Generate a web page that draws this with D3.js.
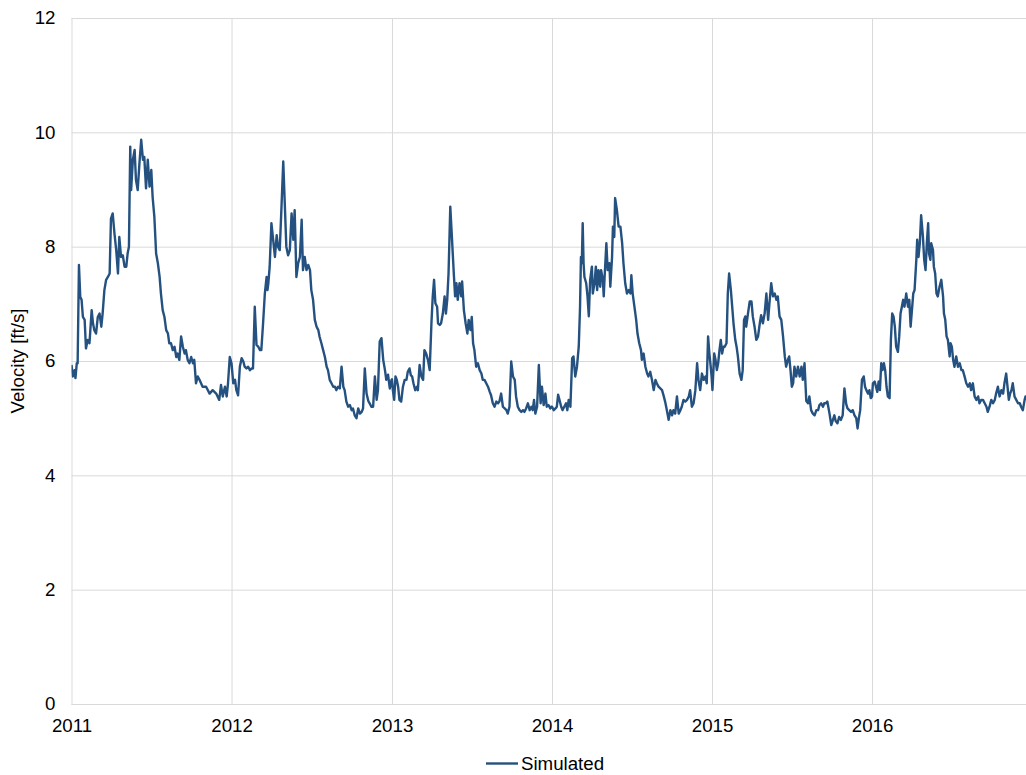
<!DOCTYPE html>
<html>
<head>
<meta charset="utf-8">
<script src="https://cdn.jsdelivr.net/npm/d3@7"></script>
<style>
  html, body { margin: 0; padding: 0; background: #fff; }
  svg { display: block; font-family: "Liberation Sans", Arial, sans-serif; }
</style>
</head>
<body>
<svg id="chart" width="1026" height="775"></svg>
<script>
// ---- Data (day-of-year, velocity ft/s) ----
const years = [2011, 2012, 2013, 2014, 2015, 2016];
const yTicks = [0, 2, 4, 6, 8, 10, 12];
const xTickLabels = ["2011", "2012", "2013", "2014", "2015", "2016"];
const seriesName = "Simulated";
const yTitle = "Velocity [ft/s]";

const sim2011 = [[0,5.93],[3,5.73],[7,5.84],[9,5.70],[12,5.96],[14,5.96],[17,7.68],[20,7.12],[23,7.07],[26,6.77],[30,6.72],[33,6.22],[37,6.37],[41,6.31],[46,6.89],[49,6.66],[52,6.54],[56,6.48],[60,6.77],[64,6.83],[68,6.60],[71,6.83],[75,7.24],[79,7.42],[83,7.47],[87,7.53],[90,8.49],[94,8.58],[98,8.23],[102,7.94],[106,7.53],[109,8.17],[113,7.82],[117,7.85],[121,7.65],[125,7.65],[128,7.88],[131,8.00],[134,9.75],[136,8.99],[140,9.52],[144,9.69],[147,9.17],[151,8.99],[155,9.46],[159,9.87],[163,9.52],[166,9.57],[170,9.02],[174,9.52],[178,9.05],[182,9.34],[185,8.87],[189,8.52],[193,7.88],[197,7.71],[201,7.47],[204,7.18],[208,6.89],[212,6.77],[216,6.54],[220,6.48],[223,6.31],[227,6.31],[231,6.19],[235,6.25],[239,6.07],[242,6.13],[246,6.02],[250,6.43],[254,6.25],[258,6.13],[261,6.19],[265,6.02],[269,5.96],[273,6.07],[277,5.96],[280,6.02],[284,5.61],[288,5.73],[292,5.67],[299,5.55],[307,5.55],[315,5.43],[322,5.49],[330,5.43],[337,5.32],[341,5.58],[345,5.38],[350,5.55],[354,5.38],[357,5.61],[361,6.07]];
const sim2012 = [[0,5.96],[4,5.61],[8,5.67],[11,5.49],[15,5.40],[19,5.90],[23,6.05],[27,5.99],[30,5.90],[34,5.87],[38,5.90],[42,5.84],[46,5.87],[49,5.87],[53,6.95],[57,6.28],[61,6.25],[65,6.19],[68,6.19],[72,6.66],[76,7.18],[80,7.47],[82,7.24],[84,7.36],[87,7.65],[91,8.41],[95,8.12],[99,7.82],[103,8.20],[106,8.00],[110,7.94],[114,8.70],[118,9.49],[122,8.64],[125,8.00],[129,7.85],[133,7.94],[137,8.58],[141,8.12],[144,8.64],[148,7.47],[152,7.71],[156,7.82],[160,8.47],[163,7.59],[167,7.82],[171,7.59],[175,7.68],[179,7.59],[182,7.24],[186,7.07],[190,6.72],[194,6.60],[198,6.54],[201,6.42],[205,6.31],[209,6.19],[213,6.07],[217,5.90],[220,5.84],[224,5.67],[228,5.61],[232,5.55],[236,5.55],[239,5.49],[243,5.55],[247,5.52],[251,5.90],[255,5.55],[258,5.49],[262,5.29],[266,5.20],[270,5.23],[274,5.14],[277,5.17],[281,5.05],[285,5.00],[289,5.17],[293,5.08],[297,5.11],[300,5.17],[304,5.87],[308,5.43],[312,5.30],[315,5.26],[319,5.20],[323,5.20],[327,5.73],[331,5.32],[334,5.49],[338,6.34],[342,6.40],[346,6.02],[350,5.84],[353,5.67],[357,5.76],[361,5.52],[365,5.67]];
const sim2013 = [[0,5.68],[2,5.49],[5,5.32],[8,5.73],[11,5.67],[14,5.55],[17,5.32],[21,5.29],[25,5.55],[29,5.67],[33,5.67],[36,5.81],[40,5.87],[43,5.75],[46,5.73],[49,5.61],[53,5.49],[57,5.55],[59,5.49],[63,5.93],[67,5.73],[71,5.67],[74,6.19],[78,6.13],[82,6.02],[86,5.84],[90,6.66],[93,7.13],[96,7.42],[99,7.01],[103,6.95],[105,6.66],[109,6.63],[112,6.66],[116,6.83],[120,7.13],[123,6.83],[126,7.07],[129,7.53],[133,8.70],[137,8.12],[141,7.53],[144,7.13],[147,7.36],[150,7.07],[154,7.36],[158,7.13],[160,7.39],[164,6.89],[168,6.66],[172,6.48],[175,6.72],[179,6.54],[182,6.77],[185,6.31],[188,6.19],[192,5.90],[196,5.96],[200,5.84],[204,5.78],[207,5.67],[211,5.67],[215,5.61],[219,5.55],[223,5.46],[226,5.40],[230,5.26],[234,5.20],[238,5.29],[242,5.26],[245,5.29],[249,5.43],[253,5.20],[257,5.17],[261,5.14],[264,5.08],[268,5.20],[272,5.99],[276,5.73],[280,5.67],[283,5.38],[287,5.20],[291,5.14],[295,5.11],[299,5.14],[302,5.11],[306,5.17],[310,5.26],[314,5.14],[318,5.20],[321,5.14],[324,5.32],[327,5.08],[331,5.20],[335,5.93],[339,5.26],[342,5.55],[346,5.23],[350,5.43],[353,5.20],[357,5.23],[361,5.17],[363,5.20]];
const sim2014 = [[0,5.20],[4,5.14],[8,5.17],[11,5.20],[14,5.41],[17,5.32],[21,5.20],[24,5.14],[28,5.20],[32,5.26],[35,5.14],[38,5.32],[42,5.20],[46,6.05],[49,6.08],[53,5.73],[57,5.90],[61,6.25],[64,6.95],[66,7.82],[68,7.71],[70,8.41],[72,7.71],[74,7.47],[78,7.36],[81,7.13],[84,6.78],[87,7.42],[91,7.65],[93,7.18],[97,7.36],[100,7.65],[103,7.24],[106,7.59],[110,7.30],[112,7.59],[116,7.42],[118,7.13],[120,7.47],[124,8.06],[127,7.59],[131,7.71],[133,7.30],[137,7.82],[139,8.35],[142,8.17],[144,8.85],[148,8.64],[152,8.35],[156,8.35],[160,8.06],[163,7.71],[167,7.36],[171,7.18],[175,7.24],[179,7.18],[181,7.50],[184,7.18],[188,6.95],[192,6.72],[195,6.48],[199,6.31],[203,6.19],[205,6.02],[209,6.13],[213,5.90],[217,5.78],[220,5.73],[224,5.81],[228,5.67],[232,5.49],[236,5.67],[239,5.61],[243,5.55],[247,5.52],[251,5.49],[255,5.38],[258,5.29],[262,5.14],[266,4.97],[270,5.14],[274,5.05],[277,5.14],[281,5.08],[285,5.38],[289,5.08],[293,5.14],[296,5.20],[300,5.32],[304,5.29],[308,5.32],[312,5.38],[315,5.49],[319,5.20],[323,5.26],[327,5.49],[331,5.96],[334,5.67],[338,5.49],[342,5.78],[346,5.67],[350,5.73],[353,5.61],[356,6.43],[359,6.13],[362,5.90],[364,5.73]];
const sim2015 = [[1,5.49],[5,6.13],[8,6.02],[11,5.84],[14,5.96],[17,6.19],[20,6.37],[23,6.13],[26,6.25],[29,6.25],[33,6.31],[36,7.18],[39,7.53],[43,7.24],[46,6.95],[49,6.66],[53,6.37],[56,6.25],[59,6.08],[63,5.78],[67,5.67],[70,5.84],[73,6.72],[76,6.78],[78,6.60],[82,6.83],[86,7.04],[90,7.04],[93,6.78],[97,6.60],[101,6.37],[105,6.43],[109,6.66],[112,6.80],[116,6.66],[120,6.83],[124,7.18],[128,6.72],[131,7.01],[135,7.36],[139,7.13],[143,7.18],[147,7.07],[150,7.13],[154,6.78],[158,6.72],[162,6.43],[166,6.08],[169,5.90],[173,6.02],[176,6.08],[179,5.84],[182,5.55],[185,5.61],[188,5.90],[192,5.73],[196,5.90],[200,5.73],[204,5.90],[207,5.67],[211,5.96],[215,5.30],[219,5.26],[222,5.38],[226,5.14],[230,5.08],[234,5.05],[238,5.14],[242,5.14],[245,5.23],[249,5.26],[253,5.20],[256,5.26],[260,5.26],[263,5.29],[268,5.08],[272,4.88],[279,5.05],[282,4.95],[286,4.91],[290,5.02],[294,4.97],[298,5.05],[302,5.52],[306,5.25],[309,5.17],[313,5.14],[317,5.11],[321,5.14],[325,5.05],[329,5.00],[332,4.82],[335,5.00],[338,5.14],[342,5.67],[346,5.73],[349,5.55],[352,5.49],[356,5.43],[359,5.49],[362,5.35]];
const sim2016 = [[0,5.38],[2,5.61],[6,5.64],[10,5.52],[12,5.46],[15,5.64],[18,5.49],[21,5.96],[24,5.84],[27,5.96],[30,5.84],[33,5.55],[36,5.38],[40,5.35],[43,6.37],[46,6.83],[49,6.78],[52,6.60],[55,6.25],[59,6.16],[62,6.43],[65,6.83],[68,6.95],[71,7.07],[74,6.95],[78,7.18],[82,6.95],[85,7.07],[88,6.60],[91,6.89],[94,7.18],[97,7.24],[101,7.77],[103,8.12],[106,7.82],[109,8.06],[112,8.55],[116,8.18],[119,7.77],[122,7.59],[125,8.06],[128,8.41],[130,7.88],[133,7.77],[135,8.06],[139,7.94],[141,7.65],[144,7.53],[147,7.18],[150,7.13],[154,7.30],[158,7.42],[162,7.13],[164,6.83],[167,6.72],[170,6.43],[173,6.37],[177,6.08],[179,6.31],[182,6.25],[185,6.02],[188,5.90],[192,6.08],[196,5.90],[200,5.96],[204,5.84],[207,5.84],[211,5.73],[215,5.61],[219,5.55],[223,5.61],[226,5.49],[230,5.61],[234,5.38],[238,5.32],[242,5.38],[245,5.26],[249,5.32],[253,5.32],[257,5.26],[261,5.20],[264,5.11],[268,5.20],[272,5.32],[276,5.26],[280,5.32],[283,5.43],[287,5.55],[291,5.38],[295,5.49],[299,5.43],[302,5.61],[306,5.78],[309,5.55],[312,5.32],[315,5.43],[318,5.49],[321,5.61],[325,5.38],[329,5.32],[333,5.26],[337,5.26],[340,5.20],[344,5.14],[348,5.32],[350,5.38],[355,5.30],[360,5.40]];

const yearSeries = [sim2011, sim2012, sim2013, sim2014, sim2015, sim2016];

// ---- Build points ----
const points = [];
years.forEach((yr, i) => {
  yearSeries[i].forEach(([d, v]) => {
    points.push({ date: d3.timeDay.offset(new Date(yr, 0, 1), d), value: v });
  });
});

// ---- Layout ----
const W = 1026, H = 775;
const mLeft = 71.5, mTop = 18, mBottom = 704;
const plotRight = 1026;
const fontSize = "18.7px";
const svg = d3.select("#chart");

const x = d3.scaleTime()
  .domain([new Date(2011, 0, 1), new Date(2017, 0, 1)])
  .range([mLeft, 1032.5]);
const y = d3.scaleLinear().domain([0, 12]).range([mBottom, mTop]);

const gridColor = "#d9d9d9";
const textColor = "#000000";

// Y axis + horizontal gridlines
const yAxis = svg.append("g")
  .attr("transform", `translate(${mLeft},0)`)
  .call(d3.axisLeft(y).tickValues(yTicks).tickSize(-(plotRight - mLeft)).tickPadding(16).tickFormat(d3.format("d")));
yAxis.select(".domain").remove();
yAxis.selectAll(".tick line").attr("stroke", gridColor).attr("stroke-width", 1);
yAxis.selectAll(".tick text").attr("fill", textColor).style("font-size", fontSize)
  .style("font-family", "'Liberation Sans', Arial, sans-serif");

// X axis + vertical gridlines
const xTickDates = xTickLabels.map(s => new Date(+s, 0, 1));
const xAxis = svg.append("g")
  .attr("transform", `translate(0,${mBottom})`)
  .call(d3.axisBottom(x).tickValues(xTickDates).tickSize(-(mBottom - mTop)).tickPadding(15)
    .tickFormat((d, i) => xTickLabels[i]));
xAxis.select(".domain").remove();
xAxis.selectAll(".tick line").attr("stroke", gridColor).attr("stroke-width", 1);
xAxis.selectAll(".tick text").attr("fill", textColor).style("font-size", fontSize)
  .style("font-family", "'Liberation Sans', Arial, sans-serif");

// Bottom axis line
svg.append("line")
  .attr("x1", mLeft).attr("x2", plotRight)
  .attr("y1", y(0) + 0.5).attr("y2", y(0) + 0.5)
  .attr("stroke", gridColor).attr("stroke-width", 1);

// Clip
svg.append("clipPath").attr("id", "clip")
  .append("rect").attr("x", mLeft).attr("y", 0).attr("width", plotRight - mLeft).attr("height", H);

// Line
const lineColor = "#24517f";
const line = d3.line().x(d => x(d.date)).y(d => y(d.value)).curve(d3.curveLinear);
svg.append("path")
  .datum(points)
  .attr("clip-path", "url(#clip)")
  .attr("fill", "none")
  .attr("stroke", lineColor)
  .attr("stroke-width", 2.4)
  .attr("stroke-linejoin", "round")
  .attr("d", line);

// Y title
svg.append("text")
  .attr("transform", `translate(24,${(mTop + mBottom) / 2}) rotate(-90)`)
  .attr("text-anchor", "middle")
  .attr("fill", textColor)
  .style("font-size", fontSize)
  .text(yTitle);

// Legend
const lg = svg.append("g");
lg.append("line")
  .attr("x1", 486).attr("x2", 518).attr("y1", 763.5).attr("y2", 763.5)
  .attr("stroke", lineColor).attr("stroke-width", 2.4);
lg.append("text")
  .attr("x", 521).attr("y", 770)
  .attr("fill", textColor)
  .style("font-size", fontSize)
  .text(seriesName);
</script>
</body>
</html>
